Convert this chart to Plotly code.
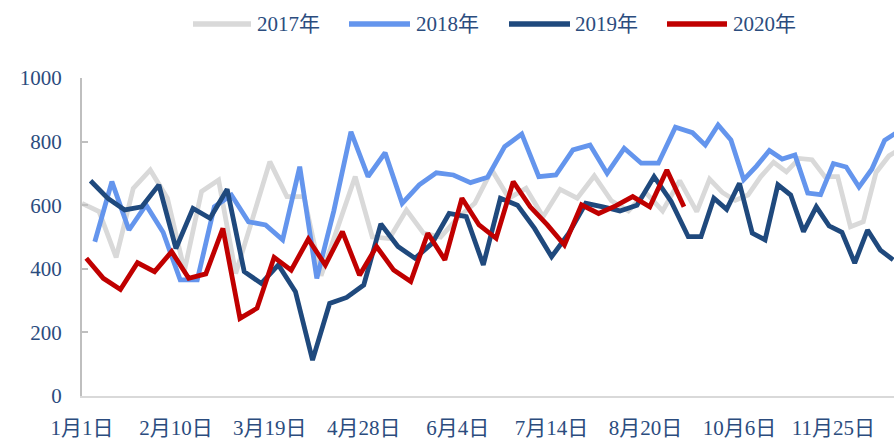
import datetime as dt
import plotly.graph_objects as go

# ---------------- data ----------------
series_names = ["2017年", "2018年", "2019年", "2020年"]
# first weekly (Sunday) observation of each year; one value per week after it
start_dates = ["2017-01-01", "2018-01-07", "2019-01-06", "2020-01-05"]

v2017 = [606, 580, 436, 653, 711, 622, 395, 643, 679, 385, 560, 737, 627, 627, 378, 530,
         690, 500, 495, 585, 512, 500, 560, 606, 711, 622, 653, 564, 650, 622, 692, 614,
         582, 640, 582, 677, 580, 682, 640, 615, 632, 690, 735, 705, 747, 743, 690, 690,
         532, 548, 703, 755, 780]
v2018 = [485, 674, 522, 601, 515, 365, 365, 595, 632, 548, 538, 491, 721, 370, 583, 831,
         690, 765, 606, 664, 702, 695, 671, 688, 784, 824, 690, 695, 774, 789, 700, 779,
         732, 732, 845, 828, 789, 852, 805, 680, 723, 772, 745, 758, 638, 633, 731, 720,
         657, 713, 804, 830]
v2019 = [677, 622, 585, 595, 664, 464, 590, 559, 650, 391, 354, 412, 328, 113, 291, 310,
         349, 541, 470, 433, 480, 574, 564, 412, 622, 600, 527, 438, 511, 606, 595, 582,
         600, 690, 612, 501, 501, 622, 587, 669, 512, 491, 664, 632, 517, 595, 535, 515,
         418, 522, 459, 428]
v2020 = [433, 370, 335, 419, 391, 454, 370, 384, 527, 244, 276, 436, 396, 493, 412, 517,
         380, 470, 396, 360, 512, 428, 622, 538, 496, 674, 595, 538, 475, 601, 574, 598,
         627, 595, 711, 595]

tick_labels = ["1月1日", "2月10日", "3月19日", "4月28日", "6月4日",
               "7月14日", "8月20日", "10月6日", "11月25日"]
y_ticks = [0, 200, 400, 600, 800, 1000]

# ---------------- styles ----------------
colors = ["#D9D9D9", "#6495ED", "#1F497D", "#C00000"]
text_color = "#2B4C7E"
font_family = "Liberation Serif, 'Noto Sans CJK SC', serif"
font_size = 21
W, H = 894, 440
L, R, T, B = 82, 0, 78, 44
x_range = [0, 190.2]

values = [v2017, v2018, v2019, v2020]


def week_labels(start, n):
    d0 = dt.date.fromisoformat(start)
    out = []
    for i in range(n):
        d = d0 + dt.timedelta(days=7 * i)
        out.append((d.month, d.day, f"{d.month}月{d.day}日"))
    return out


series_x = []
all_cats = {}
for s, vals in zip(start_dates, values):
    wl = week_labels(s, len(vals))
    series_x.append([w[2] for w in wl])
    for m, d, lab in wl:
        all_cats[lab] = (m, d)
categories = sorted(all_cats, key=lambda k: all_cats[k])

fig = go.Figure()
for name, xs, ys, c in zip(series_names, series_x, values, colors):
    fig.add_trace(go.Scatter(x=xs, y=ys, mode="lines", name=name,
                             line=dict(color=c, width=4.8), showlegend=False))

# custom legend (long line samples like the original)
def px_x(p):
    return (p - L) / (W - L - R)

def px_y(p):
    return (H - B - p) / (H - T - B)

legend_items = [(193, 251, 255), (349, 410, 414), (509, 570, 573), (667, 727, 731)]
for (x0, x1, xt), name, c in zip(legend_items, series_names, colors):
    fig.add_shape(type="line", xref="paper", yref="paper",
                  x0=px_x(x0), x1=px_x(x1), y0=px_y(24), y1=px_y(24),
                  line=dict(color=c, width=5.5))
    fig.add_annotation(xref="paper", yref="paper", x=px_x(xt), y=px_y(24),
                       text=name, showarrow=False, xanchor="left", yanchor="middle",
                       font=dict(family=font_family, size=font_size, color=text_color))

fig.update_layout(
    width=W, height=H,
    margin=dict(l=L, r=R, t=T, b=B),
    paper_bgcolor="white", plot_bgcolor="white",
    showlegend=False,
    font=dict(family=font_family, size=font_size, color=text_color),
    xaxis=dict(type="category", categoryorder="array", categoryarray=categories,
               range=x_range, tickmode="array", tickvals=tick_labels, ticktext=tick_labels,
               ticks="", showgrid=False, zeroline=False,
               showline=True, linecolor="#D9D9D9", linewidth=2,
               tickfont=dict(family=font_family, size=font_size, color=text_color),
               ticklabelstandoff=12),
    xaxis2=dict(type="linear", overlaying="x", anchor="y", side="bottom",
                range=x_range, tickmode="array", tickvals=list(range(20, 191, 20)),
                ticks="inside", ticklen=5, tickwidth=1.5, tickcolor="#D0D0D0",
                showticklabels=False, showgrid=False, zeroline=False, showline=False),
    yaxis=dict(range=[0, 1000], tickmode="array", tickvals=y_ticks,
               ticks="inside", ticklen=6, tickwidth=1.5, tickcolor="#BFBFBF",
               showline=True, linecolor="#BFBFBF", linewidth=2,
               showgrid=False, zeroline=False,
               tickfont=dict(family=font_family, size=font_size, color=text_color),
               ticklabelstandoff=14),
)

fig.write_html("out.html",
               config={"displayModeBar": False},
               post_script="document.body.style.margin='0px';document.body.style.overflow='hidden';")
